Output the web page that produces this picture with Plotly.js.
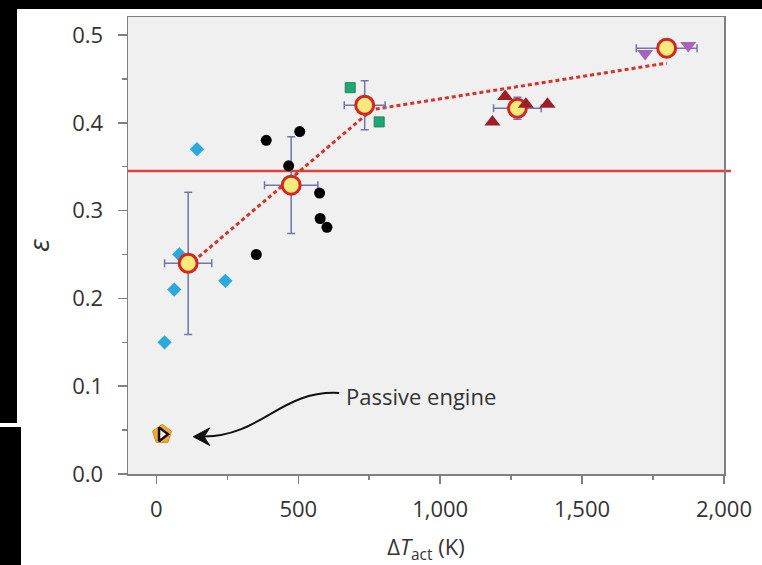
<!DOCTYPE html>
<html>
<head>
<meta charset="utf-8">
<script src="https://cdn.plot.ly/plotly-3.0.1.min.js"></script>
<style>html,body{margin:0;padding:0;background:#fff;}#chart{width:762px;height:565px;}</style>
</head>
<body>
<div id="chart"></div>
<script>
// ---- data ----
const cyanX = [143, 81, 63, 243, 29];
const cyanY = [0.370, 0.250, 0.210, 0.220, 0.150];
const blackX = [387, 505, 466, 575, 577, 601, 352];
const blackY = [0.380, 0.390, 0.351, 0.320, 0.291, 0.281, 0.250];
const greenX = [683, 785];
const greenY = [0.440, 0.401];
const redX = [1229, 1302, 1378, 1184];
const redY = [0.430, 0.421, 0.421, 0.401];
const purpleX = [1722, 1874];
const purpleY = [0.479, 0.488];
const meanX = [112, 475, 734, 1272, 1798];
const meanY = [0.240, 0.329, 0.420, 0.4165, 0.485];
const meanXErr = [83, 94, 72, 84, 107];
const meanYErr = [0.081, 0.055, 0.028, 0.0125, 0.003];
const fitX = [112, 760, 1798];
const fitY = [0.237, 0.415, 0.468];
const passiveX = [20];
const passiveY = [0.0452];
const refLevel = [0.345];
const xTickVals = [0, 500, 1000, 1500, 2000];
const xTickText = ['0', '500', '1,000', '1,500', '2,000'];
const yTickVals = [0.0, 0.1, 0.2, 0.3, 0.4, 0.5];
const yTickText = ['0.0', '0.1', '0.2', '0.3', '0.4', '0.5'];
const annText = 'Passive engine';

// ---- geometry helpers (pixel -> paper) ----
const W = 762, H = 565, ML = 128, MR = 38, MT = 17, MB = 91;
const PW = W - ML - MR, PH = H - MT - MB;
const px = v => (v - ML) / PW;
const py = v => (H - MB - v) / PH;

const FONT = 'Open Sans, Lato, sans-serif';
const TXT = '#333333';

const traces = [
  {x: cyanX, y: cyanY, mode: 'markers', type: 'scatter', hoverinfo: 'skip',
   marker: {symbol: 'diamond', size: 11, color: '#2aa9dc'}},
  {x: fitX, y: fitY, mode: 'lines', type: 'scatter', hoverinfo: 'skip',
   line: {color: '#d9302a', width: 3, dash: '4px,3px'}},
  {x: meanX, y: meanY, mode: 'markers', type: 'scatter', hoverinfo: 'skip',
   error_x: {type: 'data', array: meanXErr, visible: true, color: '#6f76aa', thickness: 1.5, width: 4},
   error_y: {type: 'data', array: meanYErr, visible: true, color: '#6f76aa', thickness: 1.5, width: 4},
   marker: {symbol: 'circle', size: 18, color: '#fbe97c', line: {color: '#d4261f', width: 3}}},
  {x: blackX, y: blackY, mode: 'markers', type: 'scatter', hoverinfo: 'skip',
   marker: {symbol: 'circle', size: 11, color: '#000'}},
  {x: greenX, y: greenY, mode: 'markers', type: 'scatter', hoverinfo: 'skip',
   marker: {symbol: 'square', size: 10, color: '#22a474', line: {color: '#178a5e', width: 1}}},
  {x: redX, y: redY, mode: 'markers', type: 'scatter', hoverinfo: 'skip',
   marker: {symbol: 'triangle-up', size: 14, color: '#9d1f25'}},
  {x: purpleX, y: purpleY, mode: 'markers', type: 'scatter', hoverinfo: 'skip',
   marker: {symbol: 'triangle-down', size: 14, color: '#a464b8'}},
  {x: passiveX, y: passiveY, mode: 'markers', type: 'scatter', hoverinfo: 'skip',
   marker: {symbol: 'pentagon', size: 20, color: '#f3a53c', line: {color: '#e08a1e', width: 1}}},
  {x: passiveX, y: passiveY, mode: 'markers', type: 'scatter', hoverinfo: 'skip',
   marker: {symbol: 'triangle-right', size: 12, color: '#ffffff', line: {color: '#111', width: 2.5}}}
];

const layout = {
  width: W, height: H,
  margin: {l: ML, r: MR, t: MT, b: MB},
  paper_bgcolor: '#ffffff',
  plot_bgcolor: '#f0f0f0',
  showlegend: false,
  font: {family: FONT, color: TXT, size: 22},
  xaxis: {
    range: [-100, 2000], showgrid: false, zeroline: false,
    showline: true, linecolor: '#808080', linewidth: 1.5, mirror: true,
    ticks: 'outside', ticklen: 8, tickwidth: 1.5, tickcolor: '#808080',
    tickvals: xTickVals, ticktext: xTickText,
    minor: {dtick: 250, tick0: 0, ticks: 'outside', ticklen: 4, tickwidth: 1.5, tickcolor: '#808080'},
    tickfont: {family: FONT, size: 22, color: TXT},
    ticklabelstandoff: 7,
    title: {text: 'Δ<i>T</i><sub>act</sub> (K)', font: {family: FONT, size: 22, color: TXT}, standoff: 18}
  },
  yaxis: {
    range: [0, PH / 878], showgrid: false, zeroline: false,
    showline: true, linecolor: '#808080', linewidth: 1.5, mirror: true,
    ticks: 'outside', ticklen: 9, tickwidth: 1.5, tickcolor: '#808080',
    tickvals: yTickVals, ticktext: yTickText,
    minor: {dtick: 0.05, tick0: 0, ticks: 'outside', ticklen: 5, tickwidth: 1.5, tickcolor: '#808080'},
    tickfont: {family: FONT, size: 22, color: TXT},
    ticklabelstandoff: 10,
    title: {text: '<i>ε</i>', font: {family: FONT, size: 28, color: TXT}, standoff: 14}
  },
  shapes: [
    {type: 'line', xref: 'paper', yref: 'y', x0: 0, x1: px(731), y0: refLevel[0], y1: refLevel[0],
     line: {color: '#d9443c', width: 2.5}, layer: 'below'},
    // curved pointer from the label to the passive engine point
    {type: 'path', xref: 'x', yref: 'y', layer: 'above',
     path: 'M 644 0.0923 C 437 0.0957 373 0.0433 168 0.0427',
     line: {color: '#111', width: 2}},
    // arrowhead
    {type: 'path', xref: 'x', yref: 'y', layer: 'above',
     path: 'M 130 0.0425 L 188 0.0525 L 168 0.0425 L 188 0.0325 Z',
     fillcolor: '#111', line: {color: '#111', width: 1}},
    // black cropping bands of the reference picture
    {type: 'rect', xref: 'paper', yref: 'paper', x0: px(0), x1: px(762), y0: py(0), y1: py(9),
     fillcolor: '#000', line: {width: 0}, layer: 'above'},
    {type: 'rect', xref: 'paper', yref: 'paper', x0: px(0), x1: px(17), y0: py(0), y1: py(423),
     fillcolor: '#000', line: {width: 0}, layer: 'above'},
    {type: 'rect', xref: 'paper', yref: 'paper', x0: px(0), x1: px(21), y0: py(427), y1: py(565),
     fillcolor: '#000', line: {width: 0}, layer: 'above'}
  ],
  annotations: [
    {x: 644, y: 0.0923, xref: 'x', yref: 'y', text: annText, showarrow: false,
     xanchor: 'left', yanchor: 'middle', xshift: 5, yshift: -3, font: {family: FONT, size: 22, color: TXT}}
  ]
};

Plotly.newPlot('chart', traces, layout, {displayModeBar: false, staticPlot: true});
</script>
</body>
</html>
